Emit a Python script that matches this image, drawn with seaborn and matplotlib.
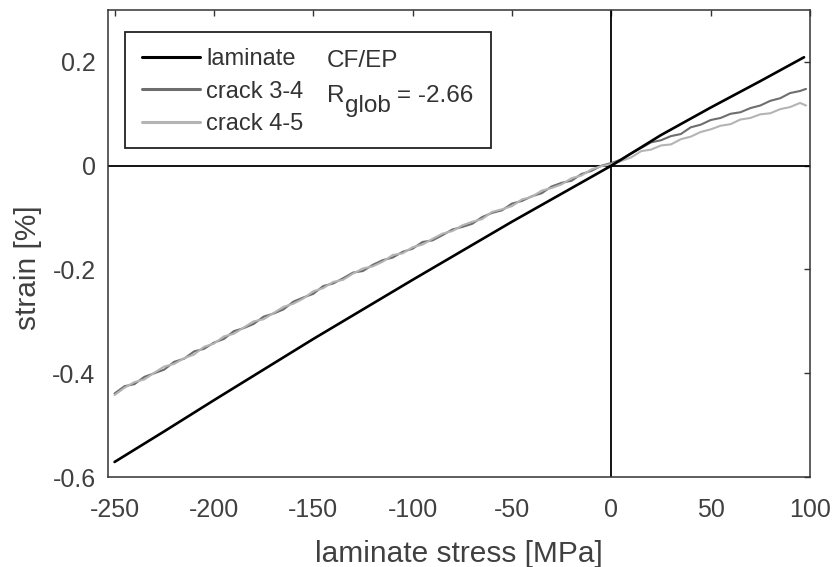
import numpy as np
import pandas as pd
import matplotlib
matplotlib.use("Agg")
import matplotlib.pyplot as plt
from matplotlib.patches import Rectangle
import seaborn as sns

# values
lam_stress = [-250, -225, -200, -175, -150, -125, -100, -75, -50, -25, 0, 25, 50, 75, 97]
lam_strain = [-0.571, -0.512, -0.452, -0.393, -0.334, -0.277, -0.220, -0.164, -0.108,
              -0.054, 0.000, 0.059, 0.112, 0.163, 0.209]

crack_stress = [-250, -245, -240, -235, -230, -225, -220, -215, -210, -205,
                -200, -195, -190, -185, -180, -175, -170, -165, -160, -155,
                -150, -145, -140, -135, -130, -125, -120, -115, -110, -105,
                -100, -95, -90, -85, -80, -75, -70, -65, -60, -55,
                -50, -45, -40, -35, -30, -25, -20, -15, -10, -5,
                0, 5, 10, 15, 20, 25, 30, 35, 40, 45,
                50, 55, 60, 65, 70, 75, 80, 85, 90, 95, 98]
crack34_strain = [-0.439, -0.425, -0.421, -0.407, -0.400, -0.393, -0.378, -0.372, -0.358, -0.353,
                  -0.341, -0.334, -0.319, -0.313, -0.305, -0.291, -0.285, -0.277, -0.262, -0.254,
                  -0.247, -0.232, -0.227, -0.217, -0.206, -0.203, -0.191, -0.182, -0.177, -0.166,
                  -0.160, -0.147, -0.144, -0.134, -0.123, -0.118, -0.112, -0.099, -0.091, -0.086,
                  -0.073, -0.068, -0.059, -0.053, -0.040, -0.033, -0.029, -0.016, -0.010, 0.000,
                  0.005, 0.012, 0.024, 0.034, 0.045, 0.049, 0.057, 0.061, 0.074, 0.079,
                  0.088, 0.092, 0.100, 0.103, 0.111, 0.116, 0.125, 0.130, 0.140, 0.144, 0.148]
crack45_strain = [-0.442, -0.428, -0.417, -0.412, -0.399, -0.387, -0.382, -0.371, -0.364, -0.349,
                  -0.343, -0.329, -0.324, -0.312, -0.300, -0.296, -0.284, -0.272, -0.266, -0.256,
                  -0.242, -0.236, -0.224, -0.220, -0.208, -0.198, -0.194, -0.185, -0.172, -0.169,
                  -0.157, -0.152, -0.141, -0.131, -0.126, -0.115, -0.108, -0.103, -0.089, -0.084,
                  -0.078, -0.065, -0.060, -0.048, -0.043, -0.036, -0.024, -0.019, -0.007, -0.001,
                  0.003, 0.009, 0.016, 0.028, 0.031, 0.039, 0.041, 0.051, 0.056, 0.065,
                  0.070, 0.077, 0.080, 0.089, 0.092, 0.099, 0.101, 0.109, 0.113, 0.121, 0.116]

xticks = [-250, -200, -150, -100, -50, 0, 50, 100]
xtick_labels = ["-250", "-200", "-150", "-100", "-50", "0", "50", "100"]
yticks = [-0.6, -0.4, -0.2, 0, 0.2]
ytick_labels = ["-0.6", "-0.4", "-0.2", "0", "0.2"]

sns.set_theme(style="white")
plt.rcParams["font.family"] = ["Liberation Sans", "DejaVu Sans"]
plt.rcParams["axes.unicode_minus"] = False

txt = "#404040"

fig = plt.figure(figsize=(8.34, 5.67), dpi=100)
ax = fig.add_axes([0.1295, 0.1587, 0.8417, 0.8236])

ax.axvline(0, color="black", lw=1.3, zorder=1)
ax.axhline(0, color="black", lw=1.3, zorder=1)

lam = pd.DataFrame({"stress": lam_stress, "strain": lam_strain})
cr34 = pd.DataFrame({"stress": crack_stress, "strain": crack34_strain})
cr45 = pd.DataFrame({"stress": crack_stress, "strain": crack45_strain})

sns.lineplot(data=lam, x="stress", y="strain", color="black", lw=1.9, ax=ax, label="laminate", zorder=3)
sns.lineplot(data=cr34, x="stress", y="strain", color="#6e6e6e", lw=1.5, ax=ax, label="crack 3-4", zorder=2)
sns.lineplot(data=cr45, x="stress", y="strain", color="#b4b4b4", lw=1.5, ax=ax, label="crack 4-5", zorder=2)

ax.set_xlim(-253.3, 100)
ax.set_ylim(-0.6, 0.3)
ax.set_xticks(xticks)
ax.set_xticklabels(xtick_labels)
ax.set_yticks(yticks)
ax.set_yticklabels(ytick_labels)
ax.tick_params(axis="both", direction="in", length=4, width=1, color="#333333",
               top=True, right=True, labelsize=18, labelcolor=txt)
ax.tick_params(axis="x", pad=15)
ax.tick_params(axis="y", pad=9)
for s in ax.spines.values():
    s.set_color("#333333")
    s.set_linewidth(1.1)

ax.set_xlabel("laminate stress [MPa]", fontsize=21.5, color=txt, labelpad=13)
ax.set_ylabel("strain [%]", fontsize=21.5, color=txt)
ax.yaxis.set_label_coords(-0.094, 0.4475)

# legend box with the extra annotation inside
ax.add_patch(Rectangle((0.0242, 0.7045), 0.5214, 0.2484, transform=ax.transAxes,
                       facecolor="white", edgecolor="#222222", lw=1.3, zorder=4))
leg = ax.legend(loc="upper left", bbox_to_anchor=(0.049, 0.918), frameon=False,
                fontsize=17, handlelength=2.45, handletextpad=0.25, labelspacing=0.44,
                borderpad=0, borderaxespad=0)
leg.set_zorder(5)
for t in leg.get_texts():
    t.set_color("#333333")
for h in leg.get_lines():
    h.set_linewidth(2.2)
ax.text(0.312, 0.8786, "CF/EP", transform=ax.transAxes, fontsize=17.5, color="#333333",
        va="baseline", ha="left", zorder=6)
ax.text(0.312, 0.8036, "R", transform=ax.transAxes, fontsize=17.5, color="#333333",
        va="baseline", ha="left", zorder=6)
ax.text(0.3376, 0.7822, "glob", transform=ax.transAxes, fontsize=17.5, color="#333333",
        va="baseline", ha="left", zorder=6)
ax.text(0.4117, 0.8036, "= -2.66", transform=ax.transAxes, fontsize=17.5, color="#333333",
        va="baseline", ha="left", zorder=6)

fig.savefig("out.png", dpi=100)
